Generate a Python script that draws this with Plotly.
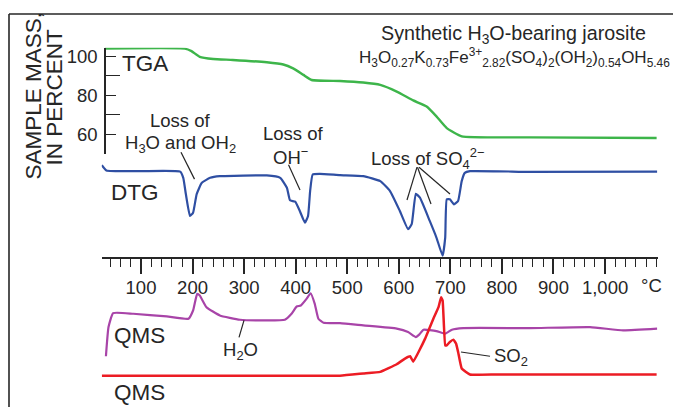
import plotly.graph_objects as go

# ---- data -------------------------------------------------------------
# TGA: sample mass (percent) vs temperature (deg C)
tga_temp = [30, 185, 198, 214, 240, 278, 344, 376, 395, 415, 431, 486, 531, 564,
            596, 628, 654, 673, 693, 722, 854, 1100]
tga_mass = [103.85, 103.8, 102.5, 99.6, 98.5, 98.0, 96.8, 95.7, 93.7, 90.4, 87.8,
            87.3, 86.5, 85.3, 81.9, 77.4, 74.3, 69.3, 63.3, 59.1, 58.6, 58.3]

# DTG: derivative mass signal (arbitrary units, 0 = baseline)
dtg_temp = [24, 33, 98, 176, 182, 187, 195, 201, 208, 218, 234, 253, 344, 370, 383,
            389, 399, 408, 418, 424, 428, 433, 447, 486, 531, 564, 583, 602, 618,
            625, 633, 641, 660, 673, 685, 690, 693, 699, 707, 715, 722, 728, 738,
            854, 1101]
dtg_val = [0.6, 0.07, 0.0, -0.05, -0.67, -2.3, -4.5, -4.17, -2.3, -1.17, -0.67,
           -0.5, -0.43, -0.67, -1.67, -2.93, -3.07, -4.0, -5.17, -4.5, -2.0, -0.33,
           -0.27, -0.4, -0.5, -1.0, -2.0, -4.0, -5.83, -5.33, -2.27, -2.67, -5.0,
           -6.67, -8.5, -6.67, -2.83, -2.83, -3.33, -3.0, -1.0, -0.17, 0.0, -0.07,
           -0.05]

# QMS: H2O ion current (arbitrary units)
h2o_temp = [32, 37, 46, 85, 150, 192, 201, 209, 214, 227, 253, 292, 344, 379, 392,
            402, 410, 421, 429, 437, 444, 454, 486, 531, 596, 618, 633, 640, 648,
            673, 690, 703, 725, 854, 971, 1035, 1101]
h2o_val = [0.4, 3.33, 4.73, 4.67, 4.4, 4.17, 5.0, 6.67, 6.5, 5.33, 4.5, 4.07, 4.0,
           4.07, 4.67, 5.4, 5.5, 6.17, 6.73, 5.67, 4.17, 3.77, 3.73, 3.5, 3.17,
           2.83, 2.33, 2.6, 3.07, 2.93, 2.67, 3.07, 3.23, 3.23, 3.33, 3.0, 3.17]

# QMS: SO2 ion current (arbitrary units)
so2_temp = [24, 486, 531, 564, 596, 612, 622, 628, 640, 651, 667, 677, 682, 685,
            690, 693, 699, 706, 711, 715, 722, 738, 790, 1100]
so2_val = [0.43, 0.45, 0.67, 0.83, 1.6, 2.17, 2.4, 1.85, 3.0, 4.17, 6.17, 7.33,
           8.33, 8.0, 3.5, 3.5, 3.83, 4.07, 3.67, 2.83, 1.17, 0.57, 0.57, 0.57]

temp_ticks = [100, 200, 300, 400, 500, 600, 700, 800, 900, 1000]
temp_labels = ["100", "200", "300", "400", "500", "600", "700", "800", "900", "1,000"]
mass_ticks = [60, 80, 100]
mass_minor = [70, 90]

# ---- layout helpers (pixel -> paper) -------------------------------------
W, H = 673, 407
FONT = "Liberation Sans, Arial, Helvetica, sans-serif"
INK = "#262626"


def fx(px):
    return px / W


def fy(py):
    return 1 - py / H


fig = go.Figure()

fig.add_trace(go.Scatter(x=tga_temp, y=tga_mass, xaxis="x", yaxis="y",
                         mode="lines",
                         line=dict(color="#3db54a", width=2.4, shape="spline", smoothing=0.4),
                         hoverinfo="skip"))
fig.add_trace(go.Scatter(x=dtg_temp, y=dtg_val, xaxis="x", yaxis="y2",
                         mode="lines",
                         line=dict(color="#2f4fa3", width=2.2, shape="spline", smoothing=0.4),
                         hoverinfo="skip"))
fig.add_trace(go.Scatter(x=h2o_temp, y=h2o_val, xaxis="x", yaxis="y3",
                         mode="lines",
                         line=dict(color="#a844a8", width=2.2, shape="spline", smoothing=0.4),
                         hoverinfo="skip"))
fig.add_trace(go.Scatter(x=so2_temp, y=so2_val, xaxis="x", yaxis="y4",
                         mode="lines",
                         line=dict(color="#ec1c24", width=2.5, shape="spline", smoothing=0.3),
                         hoverinfo="skip"))

hidden = dict(visible=False, showgrid=False, zeroline=False, fixedrange=True)

fig.update_layout(
    width=W, height=H,
    margin=dict(l=0, r=0, t=0, b=0),
    paper_bgcolor="white", plot_bgcolor="rgba(0,0,0,0)",
    showlegend=False,
    font=dict(family=FONT, color=INK),
    xaxis=dict(
        domain=[fx(101.7), fx(657.7)], range=[23.8, 1102.1],
        anchor="free", position=fy(257.3),
        showline=True, linecolor=INK, linewidth=1.6,
        showgrid=False, zeroline=False,
        tickmode="array", tickvals=temp_ticks, ticktext=temp_labels,
        ticks="outside", ticklen=15, tickwidth=1.6, tickcolor=INK,
        tickfont=dict(size=18.5, color=INK, family=FONT),
        ticklabelstandoff=-2,
        minor=dict(dtick=20, tick0=0, ticks="outside", ticklen=8,
                   tickwidth=1.4, tickcolor=INK, showgrid=False),
    ),
    yaxis=dict(
        domain=[fy(153), fy(46)], range=[50, 104.2],
        anchor="free", position=fx(105),
        showline=True, linecolor=INK, linewidth=1.6,
        showgrid=False, zeroline=False,
        tickmode="array", tickvals=mass_ticks,
        ticks="inside", ticklen=10, tickwidth=1.4, tickcolor=INK,
        tickfont=dict(size=18.5, color=INK, family=FONT),
        ticklabelstandoff=3,
        minor=dict(tickvals=mass_minor, ticks="inside", ticklen=14,
                   tickwidth=1.4, tickcolor=INK, showgrid=False),
    ),
    yaxis2=dict(domain=[fy(260), fy(160)], range=[-9, 1], anchor="x", **hidden),
    yaxis3=dict(domain=[fy(360), fy(280)], range=[0, 8], anchor="x", **hidden),
    yaxis4=dict(domain=[fy(380), fy(290)], range=[0, 9], anchor="x", **hidden),
)

# open frame around the figure
fig.add_shape(type="line", xref="paper", yref="paper",
              x0=fx(9), y0=fy(12), x1=fx(680), y1=fy(12),
              line=dict(color=INK, width=1.6))
fig.add_shape(type="line", xref="paper", yref="paper",
              x0=fx(9), y0=fy(12), x1=fx(9), y1=fy(420),
              line=dict(color=INK, width=1.6))

# leader lines from labels to features
leaders = [
    ((181, 151), (194.5, 178)),
    ((288.5, 163.5), (300, 189)),
    ((417, 166), (407, 199)),
    ((417.5, 166), (431, 203)),
    ((419, 166), (450, 193)),
    ((244, 320), (239, 337)),
    ((461, 351.7), (490, 356)),
]
for (a, b) in leaders:
    fig.add_shape(type="line", xref="paper", yref="paper",
                  x0=fx(a[0]), y0=fy(a[1]), x1=fx(b[0]), y1=fy(b[1]),
                  line=dict(color=INK, width=1.2))


def label(text, px, py, size=18.5, xanchor="center", angle=0):
    fig.add_annotation(text=text, xref="paper", yref="paper",
                       x=fx(px), y=fy(py), xanchor=xanchor, yanchor="middle",
                       showarrow=False, textangle=angle,
                       font=dict(size=size, color=INK, family=FONT))


label("Synthetic H<sub>3</sub>O-bearing jarosite", 513, 33, size=19.7)
label("H<sub>3</sub>O<sub>0.27</sub>K<sub>0.73</sub>Fe<sup>3+</sup><sub>2.82</sub>"
      "(SO<sub>4</sub>)<sub>2</sub>(OH<sub>2</sub>)<sub>0.54</sub>OH<sub>5.46</sub>",
      514, 56, size=17)

label("TGA", 145, 62, size=22.5)
label("DTG", 135, 191, size=22.5)
label("QMS", 139, 335, size=22.5)
label("QMS", 139, 392, size=22.5)

label("Loss of", 180, 119)
label("H<sub>3</sub>O and OH<sub>2</sub>", 180, 143)
label("Loss of", 293, 132)
label("OH<sup>\u2212</sup>", 290, 155)
label("Loss of SO<sub>4</sub><sup>2\u2212</sup>", 369, 157, xanchor="left")
label("H<sub>2</sub>O", 221, 351, xanchor="left")
label("SO<sub>2</sub>", 492, 357, xanchor="left")
label("\u00b0C", 651, 285)

label("SAMPLE MASS,", 34, 94, size=22.5, angle=-90)
label("IN PERCENT", 55, 96, size=22.5, angle=-90)

fig.write_html("out.html")
